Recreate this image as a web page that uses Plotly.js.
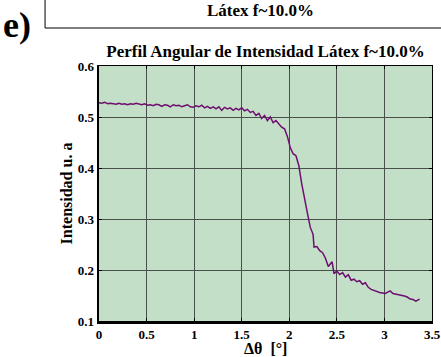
<!DOCTYPE html>
<html>
<head>
<meta charset="utf-8">
<script src="https://cdn.plot.ly/plotly-3.0.1.min.js"></script>
<style>
  html, body { margin: 0; padding: 0; background: #ffffff; }
  #chart { width: 441px; height: 357px; }
</style>
</head>
<body>
<div id="chart"></div>
<script>
// Angular intensity profile, latex f~10.0%
const deltaTheta = [
  0.00, 0.03, 0.06, 0.09, 0.12, 0.15, 0.18, 0.21, 0.24, 0.27,
  0.30, 0.33, 0.36, 0.39, 0.42, 0.45, 0.48, 0.51, 0.54, 0.57,
  0.60, 0.63, 0.66, 0.69, 0.72, 0.75, 0.78, 0.81, 0.84, 0.87,
  0.90, 0.93, 0.96, 0.99, 1.02, 1.05, 1.08, 1.11, 1.14, 1.17,
  1.20, 1.23, 1.26, 1.29, 1.32, 1.35, 1.38, 1.41, 1.44, 1.47,
  1.50, 1.53, 1.56, 1.59, 1.62, 1.65, 1.68, 1.71, 1.74, 1.77,
  1.80, 1.83, 1.86, 1.89, 1.92, 1.95, 1.98, 2.01, 2.04, 2.07,
  2.10, 2.13, 2.16, 2.19, 2.22, 2.25, 2.26, 2.29, 2.32, 2.35,
  2.38, 2.41, 2.45, 2.47, 2.50, 2.53, 2.56, 2.59, 2.62, 2.65,
  2.68, 2.71, 2.74, 2.77, 2.80, 2.83, 2.86, 2.89, 2.92, 2.95,
  2.98, 3.01, 3.04, 3.06, 3.09, 3.12, 3.15, 3.18, 3.21, 3.24,
  3.27, 3.30, 3.33, 3.36, 3.37
];
const intensity = [
  0.528, 0.527, 0.529, 0.526, 0.527, 0.526, 0.525, 0.527, 0.525, 0.526,
  0.524, 0.526, 0.525, 0.527, 0.525, 0.524, 0.526, 0.523, 0.524, 0.522,
  0.525, 0.524, 0.521, 0.524, 0.523, 0.520, 0.524, 0.522, 0.523, 0.520,
  0.522, 0.524, 0.520, 0.519, 0.522, 0.520, 0.523, 0.518, 0.521, 0.517,
  0.520, 0.516, 0.520, 0.513, 0.519, 0.516, 0.518, 0.513, 0.517, 0.514,
  0.518, 0.512, 0.515, 0.509, 0.511, 0.503, 0.507, 0.497, 0.503, 0.493,
  0.500, 0.489, 0.493, 0.486, 0.480, 0.477, 0.462, 0.440, 0.428, 0.424,
  0.405, 0.370, 0.338, 0.312, 0.284, 0.270, 0.245, 0.246, 0.238, 0.234,
  0.223, 0.207, 0.216, 0.193, 0.198, 0.191, 0.195, 0.186, 0.191, 0.180,
  0.182, 0.177, 0.179, 0.172, 0.175, 0.166, 0.162, 0.160, 0.157, 0.156,
  0.155, 0.154, 0.157, 0.159, 0.154, 0.153, 0.152, 0.151, 0.149, 0.147,
  0.143, 0.142, 0.139, 0.142, 0.143
];
const xTicks = [0, 0.5, 1, 1.5, 2, 2.5, 3, 3.5];
const xTickText = ['0', '0.5', '1', '1.5', '2', '2.5', '3', '3.5'];
const yTicks = [0.1, 0.2, 0.3, 0.4, 0.5, 0.6];
const yTickText = ['0.1', '0.2', '0.3', '0.4', '0.5', '0.6'];

const serif = 'Liberation Serif';
const boldFont = (size) => ({ family: serif, size: size, color: '#000', weight: 700 });

const trace = {
  x: deltaTheta,
  y: intensity,
  type: 'scatter',
  mode: 'lines',
  line: { color: '#6e0f70', width: 1.5 },
  hoverinfo: 'skip'
};

// invisible trace so the top/right frame axes get drawn
const frameTrace = {
  x: [0], y: [0.1], xaxis: 'x2', yaxis: 'y2',
  type: 'scatter', mode: 'markers', marker: { opacity: 0 }, hoverinfo: 'skip'
};

const layout = {
  width: 441,
  height: 357,
  margin: { l: 99, r: 9, t: 66, b: 36 },
  paper_bgcolor: '#ffffff',
  plot_bgcolor: '#c3dfc7',
  showlegend: false,
  title: {
    text: 'Perfil Angular de Intensidad Látex f~10.0%',
    font: boldFont(17),
    x: 0.5, xref: 'paper', xanchor: 'center',
    y: 0.857, yref: 'container', yanchor: 'middle'
  },
  xaxis: {
    range: [0, 3.5],
    tickvals: xTicks, ticktext: xTickText,
    ticks: 'inside', ticklen: 3, tickcolor: '#000',
    tickfont: boldFont(13),
    showgrid: true, gridcolor: '#4a4f4a', gridwidth: 1,
    showline: true, linecolor: '#000', linewidth: 2.5,
    zeroline: false
  },
  yaxis: {
    range: [0.1, 0.6],
    tickvals: yTicks, ticktext: yTickText,
    ticks: 'inside', ticklen: 3, tickcolor: '#000',
    tickfont: boldFont(13),
    showgrid: true, gridcolor: '#4a4f4a', gridwidth: 1,
    showline: true, linecolor: '#000', linewidth: 2.5,
    zeroline: false,
    title: { text: 'Intensidad u. a', font: boldFont(16), standoff: 1 }
  },
  xaxis2: {
    overlaying: 'x', side: 'top', range: [0, 3.5],
    tickvals: xTicks, showticklabels: false,
    ticks: 'inside', ticklen: 3, tickcolor: '#000',
    showgrid: false, zeroline: false,
    showline: true, linecolor: '#000', linewidth: 1
  },
  yaxis2: {
    overlaying: 'y', side: 'right', range: [0.1, 0.6],
    tickvals: yTicks, showticklabels: false,
    ticks: 'inside', ticklen: 3, tickcolor: '#000',
    showgrid: false, zeroline: false,
    showline: true, linecolor: '#000', linewidth: 1
  },
  shapes: [
    {
      type: 'rect', xref: 'paper', yref: 'paper',
      x0: -0.162, x1: 1.2, y0: 1.149, y1: 1.35,
      line: { color: '#000', width: 1 }, fillcolor: 'rgba(0,0,0,0)'
    }
  ],
  annotations: [
    {
      text: 'Látex f~10.0%', xref: 'paper', yref: 'paper',
      x: 0.486, y: 1.216, xanchor: 'center', yanchor: 'middle',
      showarrow: false, font: boldFont(17)
    },
    {
      text: 'e)', xref: 'paper', yref: 'paper',
      x: -0.295, y: 1.16, xanchor: 'left', yanchor: 'middle',
      showarrow: false, font: boldFont(36)
    },
    {
      // x-axis title
      text: 'Δθ  [°]', xref: 'paper', yref: 'paper',
      x: 0.5, y: -0.108, xanchor: 'center', yanchor: 'middle',
      showarrow: false, font: boldFont(16)
    }
  ]
};

Plotly.newPlot('chart', [trace, frameTrace], layout, { staticPlot: true, displayModeBar: false });
</script>
</body>
</html>
